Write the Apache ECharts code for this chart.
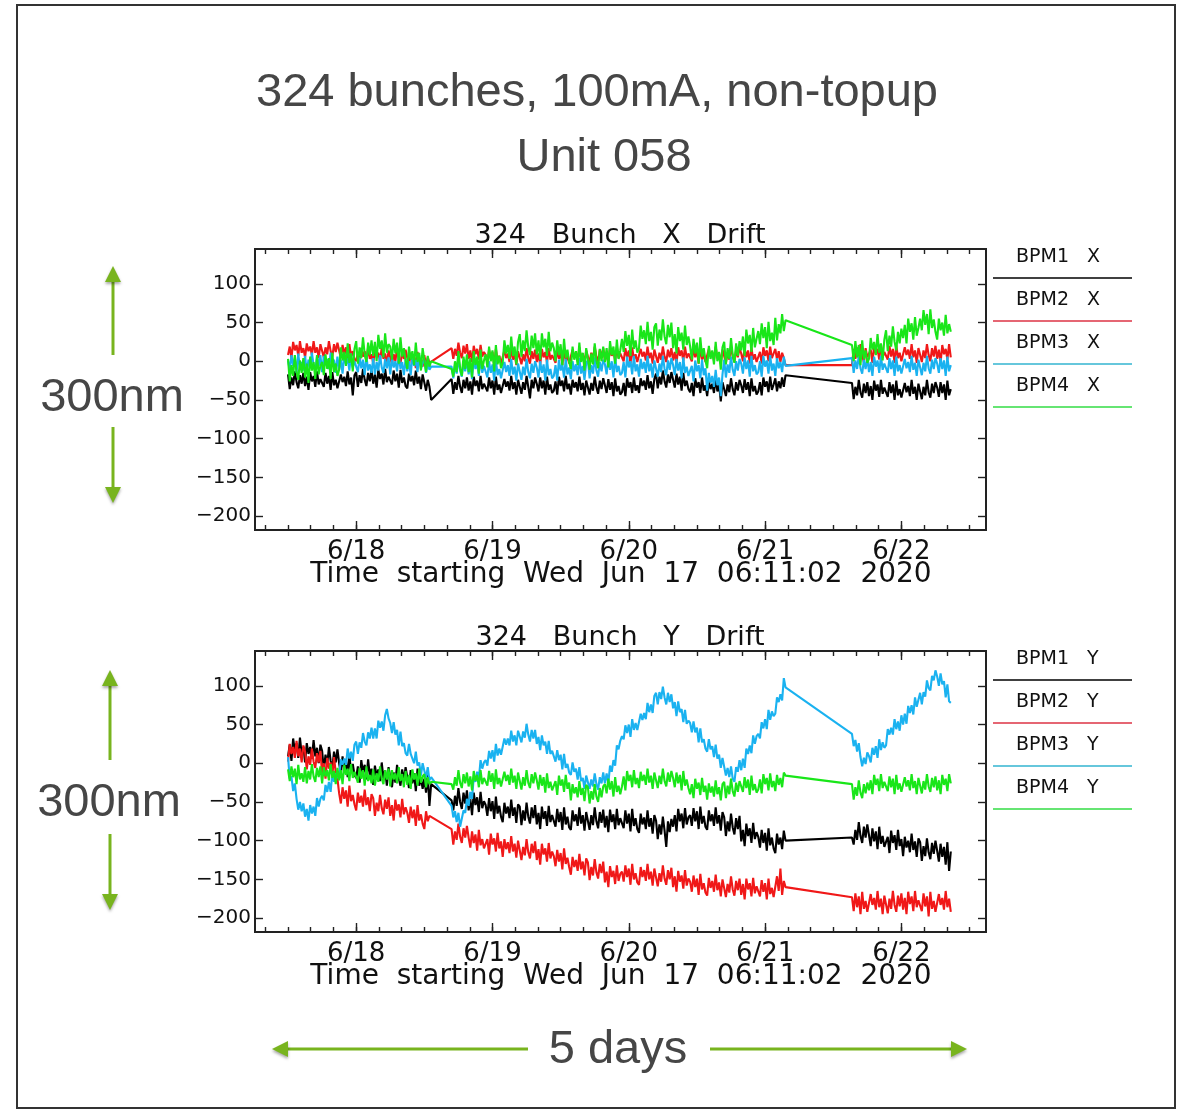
<!DOCTYPE html>
<html>
<head>
<meta charset="UTF-8">
<title>324 bunches drift</title>
<style>
  html, body { margin: 0; padding: 0; background: #fff; }
  #chart { width: 1191px; height: 1111px; }
</style>
</head>
<body>
<div id="chart"></div>
<script src="https://cdn.jsdelivr.net/npm/echarts@6/dist/echarts.min.js"></script>
<script>
// x is hours since Jun 17 00:00; plot starts at 06:11:02
var axisStartH = 6.184;
var axisEndH = 134.9;
// three recording segments, one sample every 0.3 h
var segStart = [12, 40.8, 111.3];
var stepH = 0.3;

var minorTicks = [8, 12, 16, 20, 24, 28, 32, 36, 40, 44, 48, 52, 56, 60, 64, 68, 72, 76, 80, 84, 88, 92, 96, 100, 104, 108, 112, 116, 120, 124, 128, 132];
var dayTicks = [24, 48, 72, 96, 120];
var dayLabels = ['6/18', '6/19', '6/20', '6/21', '6/22'];
var yTicks = [-200, -150, -100, -50, 0, 50, 100];
var yMin = -218, yMax = 145;

var seriesNamesX = ['BPM1   X', 'BPM2   X', 'BPM3   X', 'BPM4   X'];
var seriesNamesY = ['BPM1   Y', 'BPM2   Y', 'BPM3   Y', 'BPM4   Y'];
var colors = ['#000000', '#f01818', '#1ab2f0', '#19e619'];
var legendColors = ['#000000', '#dd3344', '#33b5d0', '#33dd44'];

// ---- X drift (nm) ----
var bpm1X = [
  [-17, -36, -21, -31, -13, -27, -35, -18, -29, -15,
   -32, -20, -37, -14, -26, -19, -33, -13, -30, -23,
   -23, -33, -15, -29, -19, -37, -14, -31, -24, -35,
   -36, -17, -27, -20, -32, -13, -30, -21, -44, -18,
   -14, -33, -18, -28, -10, -24, -32, -15, -26, -12,
   -29, -17, -34, -11, -23, -16, -30, -10, -27, -20,
   -20, -30, -12, -26, -16, -34, -11, -28, -21, -32,
   -35, -16, -26, -19, -31, -12, -29, -20, -36, -17,
   -19, -38, -24, -33, -50],
  [-23, -42, -27, -37, -19, -33, -41, -24, -35, -21,
   -38, -26, -43, -20, -32, -25, -39, -19, -36, -29,
   -29, -39, -21, -35, -25, -43, -20, -37, -30, -41,
   -42, -23, -33, -26, -38, -19, -36, -27, -43, -24,
   -23, -42, -27, -37, -19, -33, -48, -24, -35, -21,
   -29, -39, -21, -35, -25, -43, -20, -37, -30, -41,
   -38, -26, -43, -20, -32, -25, -39, -19, -36, -29,
   -43, -24, -34, -27, -39, -20, -37, -28, -44, -25,
   -24, -43, -28, -38, -20, -34, -42, -25, -36, -22,
   -31, -41, -23, -37, -27, -45, -22, -39, -32, -43,
   -40, -28, -45, -22, -34, -27, -41, -21, -38, -31,
   -41, -22, -32, -25, -37, -18, -35, -26, -42, -23,
   -16, -35, -20, -30, -12, -26, -34, -17, -28, -14,
   -24, -34, -16, -30, -20, -38, -15, -32, -25, -36,
   -40, -28, -45, -22, -34, -27, -41, -21, -38, -31,
   -45, -26, -36, -29, -41, -22, -39, -30, -52, -27,
   -26, -45, -30, -40, -22, -36, -44, -27, -38, -24,
   -31, -41, -23, -37, -27, -45, -22, -39, -32, -43,
   -39, -27, -44, -21, -33, -26, -40, -20, -37, -30,
   -22, -39, -26, -35, -21, -33, -18],
  [-28, -49, -33, -44, -24, -40, -47, -29, -41, -27,
   -45, -32, -50, -25, -38, -30, -46, -24, -42, -34,
   -34, -46, -27, -41, -30, -50, -25, -44, -36, -47,
   -49, -28, -40, -32, -45, -24, -42, -33, -50, -29,
   -28, -49, -33, -44, -24, -40, -47, -29, -41, -27,
   -34, -46, -27, -41, -30, -50, -25, -44, -36]
];
var bpm2X = [
  [8, 19, 4, 25, 14, 21, 7, 26, 11, 17,
   5, 23, 13, 19, 8, 26, 11, 18, 4, 22,
   23, 5, 18, 9, 26, 13, 6, 22, 12, 24,
   14, 4, 21, 9, 18, 1, 22, 6, 13, 3,
   0, 11, -4, 17, 6, 13, -1, 18, 3, 9,
   -3, 15, 5, 11, 0, 18, 3, 10, -4, 14,
   14, -4, 9, 0, 17, 4, -3, 13, 3, 15,
   4, -6, 11, -1, 8, -9, 12, -4, 3, -7,
   8, -6, 5, -2, -3],
  [17, 3, 16, 7, 24, 11, 4, 20, 10, 22,
   3, 14, -1, 20, 9, 16, 2, 21, 6, 12,
   8, -2, 15, 3, 12, -5, 16, 0, 7, -3,
   -4, 14, 4, 10, -1, 17, 2, 9, -5, 13,
   14, -4, 9, 0, 17, 4, -3, 13, 3, 15,
   -1, 10, -5, 16, 5, 12, -2, 17, 2, 8,
   8, -2, 15, 3, 12, -5, 16, 0, 7, -3,
   -3, 15, 5, 11, 0, 18, 3, 10, -4, 14,
   16, -2, 11, 2, 19, 6, -1, 15, 5, 17,
   1, 12, -3, 18, 7, 14, 0, 19, 4, 10,
   10, 0, 17, 5, 14, -3, 18, 2, 9, -1,
   -2, 16, 6, 12, 1, 19, 4, 11, -3, 15,
   16, -2, 11, 2, 19, 6, -1, 15, 5, 17,
   1, 12, -3, 18, 7, 14, 0, 19, 4, 10,
   10, 0, 17, 5, 14, -3, 18, 2, 9, -1,
   -2, 16, 6, 12, 1, 19, 4, 11, -3, 15,
   16, -2, 11, 2, 19, 6, -1, 15, 5, 17,
   10, 0, 17, 5, 14, -3, 18, 2, 9, -1,
   1, 12, -3, 18, 7, 14, 0, 19, 4, 10,
   16, 2, 13, -1, 11, 4, -5],
  [-5, 16, 3, 18, 4, 22, 8, -2, 17, 5,
   3, 15, -2, 21, 9, 16, 2, 22, 5, 12,
   12, 2, 20, 6, 16, -2, 21, 4, 11, 0,
   -1, 18, 8, 15, 3, 22, 5, 14, -2, 17,
   18, -1, 14, 4, 22, 8, 0, 17, 6, 20,
   3, 15, -2, 21, 9, 16, 2, 22, 5]
];
var bpm3X = [
  [1, -11, 8, -6, 5, -15, 10, -9, -1, -12,
   7, -14, 2, -9, 11, -5, -12, 6, -6, 8,
   -14, 7, -5, 3, -10, 11, -7, 2, -15, 6,
   -11, 2, -16, 9, -4, 4, -12, 10, -8, 0,
   -2, -14, 5, -9, 2, -18, 7, -12, -4, -15,
   4, -17, -1, -12, 8, -8, -15, 3, -9, 5,
   -17, 4, -8, 0, -13, 8, -10, -1, -18, 3,
   -13, 0, -18, 7, -6, 2, -14, 8, -10, -2,
   2, -15, -3, -11, -7],
  [-7, -22, -5, -16, 5, -12, -20, -1, -13, 2,
   -17, -3, -23, 4, -10, -2, -19, 5, -15, -6,
   -8, -21, 0, -15, -4, -25, 2, -18, -10, -22,
   -24, -1, -14, -5, -19, 3, -17, -7, -25, -3,
   -1, -24, -7, -18, 3, -14, -22, -3, -15, 0,
   -8, -21, 0, -15, -4, -25, 2, -18, -10, -22,
   -19, -5, -25, 2, -12, -4, -21, 3, -17, -8,
   -23, 0, -13, -4, -18, 4, -16, -6, -24, -2,
   1, -22, -5, -16, 5, -12, -20, -1, -13, 2,
   -4, -17, 4, -11, 0, -21, 6, -14, -6, -18,
   -15, -1, -21, 6, -8, 0, -17, 7, -13, -4,
   -20, 3, -10, -1, -15, 7, -13, -3, -21, 1,
   3, -20, -3, -14, 7, -10, -18, 1, -11, 4,
   -5, -18, 3, -12, -1, -22, 5, -15, -7, -19,
   -20, -6, -26, 1, -13, -5, -22, 2, -18, -9,
   -38, -15, -28, -19, -33, -11, -31, -21, -45, -17,
   2, -21, -4, -15, 6, -11, -19, 0, -12, 3,
   -3, -16, 5, -10, 1, -20, 7, -13, -5, -17,
   -14, 0, -20, 7, -7, 1, -16, 8, -12, -3,
   -19, 4, -9, -1, -14, 6, -6],
  [4, -15, 1, -10, 7, -9, -16, 2, -10, 4,
   -14, -1, -19, 6, -7, 1, -15, 7, -11, -3,
   -3, -15, 4, -10, 1, -19, 6, -13, -5, -16,
   -18, 3, -9, -1, -14, 7, -11, -2, -19, 2,
   3, -18, -2, -13, 7, -9, -16, 2, -10, 4,
   -3, -15, 4, -10, 1, -19, 6, -13, -5]
];
var bpm4X = [
  [3, -26, -5, -19, 8, -14, -24, 1, -15, 4,
   -21, -3, -28, 6, -12, -1, -23, 8, -17, -6,
   -1, -18, 9, -10, 4, -23, 11, -14, -3, -19,
   -11, 18, 1, 12, -6, 23, -2, 10, -13, 16,
   26, -3, 18, 4, 31, 9, -1, 24, 8, 27,
   7, 25, 0, 34, 16, 27, 5, 36, 11, 22,
   19, 2, 29, 10, 24, -3, 31, 6, 17, 1,
   -10, 19, 2, 13, -5, 24, -1, 11, -12, 17,
   15, -14, 7, -7, 0],
  [-10, -20, 0, -14, 13, -9, -19, 6, -10, 9,
   -14, 4, -21, 13, -5, 6, -16, 15, -10, 1,
   9, -8, 19, 0, 14, -13, 21, -4, 7, -9,
   -2, 27, 10, 21, 3, 32, 7, 19, -4, 25,
   35, 6, 27, 13, 40, 18, 8, 33, 17, 36,
   9, 27, 2, 36, 18, 29, 7, 38, 13, 24,
   17, 0, 27, 8, 22, -5, 29, 4, 15, -1,
   -10, 19, 2, 13, -5, 24, -1, 11, -12, 17,
   18, -11, 10, -4, 23, 1, -9, 16, 0, 19,
   -1, 17, -8, 26, 8, 19, -3, 28, 3, 14,
   29, 12, 39, 20, 34, 7, 41, 16, 27, 11,
   17, 46, 29, 40, 22, 51, 26, 38, 15, 44,
   49, 20, 41, 27, 54, 32, 22, 47, 31, 50,
   17, 35, 10, 44, 26, 37, 15, 46, 21, 32,
   19, 2, 29, 10, 24, -3, 31, 6, 17, 1,
   -9, 20, 3, 14, -4, 25, 0, 12, -11, 18,
   25, -4, 17, 3, 30, 8, -2, 23, 7, 26,
   14, 32, 7, 41, 23, 34, 12, 43, 18, 29,
   39, 22, 49, 30, 44, 17, 51, 26, 37, 21,
   56, 27, 48, 36, 61, 39, 53],
  [21, 0, 26, 5, 21, -5, 27, 3, 14, -2,
   3, 30, 15, 25, 8, 35, 11, 23, 1, 28,
   40, 13, 33, 19, 45, 25, 14, 38, 23, 42,
   30, 47, 23, 55, 38, 49, 28, 57, 33, 43,
   55, 40, 66, 47, 61, 35, 67, 43, 54, 38,
   28, 55, 40, 50, 33, 60, 36, 48, 38]
];

// ---- Y drift (nm) ----
var bpm1Y = [
  [9, 24, 3, 32, 16, 26, 7, 33, 12, 21,
   1, 26, 12, 21, 6, 30, 9, 20, 0, 24,
   16, -8, 11, -2, 21, 3, -6, 15, 1, 18,
   0, -14, 9, -8, 5, -18, 11, -11, -1, -15,
   -19, -4, -25, 4, -12, -2, -21, 5, -16, -7,
   -28, -3, -17, -8, -23, 1, -20, -9, -29, -5,
   -7, -31, -12, -25, -2, -20, -29, -8, -22, -5,
   -18, -32, -9, -26, -13, -36, -7, -29, -19, -33,
   -20, -38, -14, -55, -27],
  [-48, -61, -42, -55, -32, -50, -59, -38, -52, -35,
   -61, -46, -67, -38, -54, -44, -63, -37, -58, -49,
   -54, -68, -45, -62, -49, -72, -43, -65, -55, -69,
   -76, -51, -65, -56, -71, -47, -68, -57, -77, -53,
   -56, -80, -61, -74, -51, -69, -78, -57, -71, -54,
   -79, -64, -85, -56, -72, -62, -81, -55, -76, -67,
   -68, -82, -59, -76, -63, -86, -57, -79, -69, -83,
   -86, -61, -75, -66, -81, -57, -78, -67, -87, -63,
   -62, -86, -67, -80, -57, -75, -84, -63, -77, -60,
   -83, -68, -89, -60, -76, -66, -85, -59, -80, -71,
   -70, -84, -61, -78, -65, -88, -59, -81, -71, -85,
   -90, -65, -79, -70, -85, -61, -82, -71, -91, -67,
   -74, -98, -79, -92, -69, -87, -108, -75, -89, -72,
   -82, -67, -88, -59, -75, -65, -84, -58, -79, -70,
   -67, -81, -58, -75, -62, -85, -56, -78, -68, -82,
   -86, -61, -75, -66, -81, -57, -78, -67, -87, -63,
   -70, -94, -75, -88, -65, -83, -92, -71, -85, -68,
   -101, -86, -107, -78, -94, -84, -103, -77, -98, -89,
   -95, -109, -86, -103, -90, -113, -84, -106, -96, -110,
   -116, -91, -105, -96, -111, -87, -100],
  [-96, -105, -86, -99, -76, -94, -103, -82, -96, -79,
   -93, -107, -84, -101, -88, -111, -82, -104, -94, -108,
   -110, -95, -116, -87, -103, -93, -112, -86, -107, -98,
   -120, -95, -109, -100, -115, -91, -112, -101, -121, -97,
   -102, -126, -107, -120, -97, -115, -124, -103, -117, -100,
   -113, -127, -104, -121, -108, -131, -102, -139, -114]
];
var bpm2Y = [
  [2, 25, 12, 21, 7, 29, 9, 19, 1, 23,
   15, -8, 9, -2, 19, 2, -6, 13, 1, 16,
   -14, 0, -20, 7, -7, 1, -16, 8, -12, -20,
   -39, -52, -31, -46, -35, -56, -29, -49, -41, -53,
   -61, -38, -51, -42, -56, -34, -54, -44, -62, -40,
   -45, -68, -51, -62, -41, -58, -66, -47, -59, -44,
   -68, -54, -74, -47, -61, -53, -70, -46, -66, -57,
   -64, -77, -56, -71, -60, -81, -54, -74, -66, -78,
   -85, -62, -75, -68, -70],
  [-85, -105, -88, -99, -78, -95, -103, -84, -96, -81,
   -96, -109, -88, -103, -92, -113, -86, -106, -98, -110,
   -112, -98, -118, -91, -105, -97, -114, -90, -110, -101,
   -121, -98, -111, -102, -116, -94, -114, -104, -122, -100,
   -102, -125, -108, -119, -98, -115, -123, -104, -116, -101,
   -125, -111, -131, -104, -118, -110, -127, -103, -123, -114,
   -120, -133, -112, -127, -116, -137, -110, -130, -122, -134,
   -144, -121, -134, -125, -139, -117, -137, -127, -145, -123,
   -128, -151, -134, -145, -124, -141, -149, -130, -142, -127,
   -154, -140, -160, -133, -147, -139, -156, -132, -152, -143,
   -140, -153, -132, -147, -136, -157, -130, -150, -142, -154,
   -157, -134, -147, -138, -152, -130, -150, -140, -158, -136,
   -136, -159, -142, -153, -132, -149, -157, -138, -150, -135,
   -160, -146, -166, -139, -153, -145, -162, -138, -158, -149,
   -153, -166, -145, -160, -149, -170, -143, -163, -155, -167,
   -171, -148, -161, -152, -166, -144, -164, -154, -172, -150,
   -150, -173, -156, -167, -146, -163, -171, -152, -164, -149,
   -170, -156, -176, -149, -163, -155, -172, -148, -168, -159,
   -159, -172, -151, -166, -155, -176, -149, -169, -161, -173,
   -174, -146, -165, -136, -170, -152, -160],
  [-173, -191, -168, -186, -172, -195, -166, -188, -178, -192,
   -194, -169, -183, -174, -189, -165, -186, -175, -195, -171,
   -170, -194, -175, -188, -165, -183, -192, -171, -185, -168,
   -189, -174, -195, -166, -182, -172, -191, -165, -186, -177,
   -177, -191, -168, -185, -172, -198, -166, -188, -178, -192,
   -194, -169, -183, -174, -189, -165, -186, -175, -192]
];
var bpm3Y = [
  [8, -20, -17, -36, -26, -46, -60, -50, -62, -52,
   -69, -59, -74, -54, -65, -56, -68, -45, -56, -46,
   -42, -48, -28, -37, -24, -37, -13, -24, -13, -19,
   -16, 5, -2, 6, -2, 19, 6, 15, 3, 24,
   28, 12, 27, 20, 39, 28, 23, 40, 32, 46,
   32, 45, 32, 55, 46, 54, 42, 62, 70, 58,
   52, 39, 53, 37, 43, 23, 41, 22, 26, 13,
   10, 25, 12, 14, 0, 15, -3, 1, -16, 0,
   -1, -19, -5, -22, -18],
  [-55, -70, -62, -76, -64, -82, -83, -61, -64, -46,
   -55, -37, -46, -18, -24, -11, -20, 4, -7, 1,
   4, -3, 16, 6, 17, 2, 25, 10, 19, 11,
   12, 32, 24, 32, 23, 42, 28, 36, 23, 42,
   44, 27, 41, 33, 51, 37, 28, 43, 32, 43,
   25, 34, 17, 36, 23, 28, 12, 29, 12, 16,
   14, 2, 17, 4, 11, -8, 12, -6, -1, -12,
   -15, 1, -11, -7, -21, -5, -23, -19, -33, -16,
   -15, -33, -21, -30, -13, -27, -34, -18, -26, -12,
   -26, -13, -26, -3, -11, 4, -3, 23, 18, 29,
   35, 31, 49, 39, 50, 34, 57, 43, 52, 43,
   44, 64, 56, 65, 57, 78, 66, 76, 65, 87,
   91, 76, 92, 83, 99, 85, 76, 91, 79, 89,
   71, 79, 61, 80, 66, 70, 53, 69, 51, 55,
   52, 40, 54, 40, 46, 27, 45, 27, 31, 19,
   15, 31, 18, 22, 8, 24, 6, 11, -6, 7,
   5, -16, -6, -18, -4, -20, -24, -5, -11, 4,
   -9, 6, -6, 19, 12, 23, 13, 36, 25, 35,
   38, 32, 53, 45, 57, 44, 69, 56, 67, 61,
   64, 85, 79, 89, 81, 110, 98],
  [38, 22, 30, 15, 26, 8, -4, 7, -1, 14,
   9, 1, 20, 11, 22, 7, 31, 17, 27, 20,
   23, 44, 37, 46, 37, 57, 44, 54, 42, 62,
   50, 64, 51, 74, 65, 75, 63, 85, 73, 82,
   91, 76, 92, 86, 107, 97, 94, 113, 107, 120,
   112, 100, 116, 102, 106, 85, 102, 80, 78]
];
var bpm4Y = [
  [-8, -23, -4, -18, -7, -27, -2, -21, -13, -24,
   -5, -26, -10, -21, -1, -17, -24, -6, -18, -4,
   -26, -5, -17, -9, -22, -1, -19, -10, -27, -6,
   -22, -9, -27, -2, -15, -7, -23, -1, -19, -11,
   -13, -25, -6, -20, -9, -29, -4, -23, -15, -26,
   -8, -29, -13, -24, -4, -20, -27, -9, -21, -7,
   -30, -9, -21, -13, -26, -5, -23, -14, -31, -10,
   -28, -15, -33, -8, -21, -13, -29, -7, -25, -17,
   -14, -31, -18, -27, -24],
  [-27, -34, -18, -29, -9, -25, -32, -14, -26, -12,
   -30, -17, -35, -10, -23, -15, -31, -9, -27, -19,
   -17, -29, -10, -24, -13, -33, -8, -27, -19, -30,
   -32, -11, -23, -15, -28, -7, -25, -16, -33, -12,
   -13, -34, -18, -29, -9, -25, -32, -14, -26, -12,
   -22, -34, -15, -29, -18, -38, -13, -32, -24, -35,
   -36, -23, -41, -16, -29, -21, -37, -15, -33, -25,
   -48, -27, -39, -31, -44, -23, -41, -32, -49, -28,
   -31, -52, -36, -47, -27, -43, -50, -32, -44, -30,
   -27, -39, -20, -34, -23, -43, -18, -37, -29, -40,
   -30, -17, -35, -10, -23, -15, -31, -9, -27, -19,
   -32, -11, -23, -15, -28, -7, -25, -16, -33, -12,
   -11, -32, -16, -27, -7, -23, -30, -12, -24, -10,
   -19, -31, -12, -26, -15, -35, -10, -29, -21, -32,
   -40, -27, -45, -20, -33, -25, -41, -19, -37, -29,
   -47, -26, -38, -30, -43, -22, -40, -31, -48, -27,
   -24, -45, -29, -40, -20, -36, -43, -25, -37, -23,
   -25, -37, -18, -32, -21, -41, -16, -35, -27, -38,
   -34, -21, -39, -14, -27, -19, -35, -13, -31, -23,
   -36, -15, -28, -19, -31, -12, -16],
  [-27, -47, -31, -42, -22, -38, -45, -27, -39, -25,
   -35, -22, -40, -15, -28, -20, -36, -14, -32, -24,
   -24, -36, -17, -31, -20, -40, -15, -34, -26, -37,
   -39, -18, -30, -22, -35, -14, -32, -23, -40, -19,
   -18, -39, -23, -34, -14, -30, -37, -19, -31, -17,
   -35, -22, -40, -15, -28, -20, -36, -14, -26]
];

var panelX = [bpm1X, bpm2X, bpm3X, bpm4X];
var panelY = [bpm1Y, bpm2Y, bpm3Y, bpm4Y];

// full trace, joined straight across the recording gaps
function toPoints(segs) {
  var out = [];
  for (var s = 0; s < segs.length; s++) {
    for (var i = 0; i < segs[s].length; i++) {
      out.push([segStart[s] + i * stepH, segs[s][i]]);
    }
  }
  return out;
}

var idlFont = '"DejaVu Sans"';
var axisColor = '#222';

function xAx(grid, pos, ticks, len, withLabels) {
  return {
    gridIndex: grid, type: 'value', position: pos,
    min: axisStartH, max: axisEndH,
    axisLine: { show: false, onZero: false },
    splitLine: { show: false },
    axisTick: { show: true, inside: true, length: len, customValues: ticks,
      lineStyle: { color: axisColor, width: 1.4 } },
    axisLabel: withLabels ? {
      show: true, customValues: dayTicks, margin: 9,
      fontFamily: idlFont, fontSize: 26, lineHeight: 26, color: '#111',
      formatter: function (v) {
        var k = dayTicks.indexOf(Math.round(v));
        return k >= 0 ? dayLabels[k] : '';
      }
    } : { show: false }
  };
}

function yAx(grid, pos, withLabels) {
  return {
    gridIndex: grid, type: 'value', position: pos,
    min: yMin, max: yMax,
    axisLine: { show: false, onZero: false },
    splitLine: { show: false },
    axisTick: { show: true, inside: true, length: 8, customValues: yTicks,
      lineStyle: { color: axisColor, width: 1.4 } },
    axisLabel: withLabels ? {
      show: true, customValues: yTicks, margin: 4,
      fontFamily: idlFont, fontSize: 20, color: '#111',
      padding: [0, 0, 10, 0],
      formatter: function (v) { return v < 0 ? '\u2212' + (-v) : String(v); }
    } : { show: false }
  };
}

var xAxes = [], yAxes = [], series = [];
[0, 1].forEach(function (g) {
  xAxes.push(xAx(g, 'bottom', minorTicks, 5, false));
  xAxes.push(xAx(g, 'bottom', dayTicks, 9, true));
  xAxes.push(xAx(g, 'top', minorTicks, 5, false));
  xAxes.push(xAx(g, 'top', dayTicks, 9, false));
  yAxes.push(yAx(g, 'left', true));
  yAxes.push(yAx(g, 'right', false));
  var panel = g === 0 ? panelX : panelY;
  var names = g === 0 ? seriesNamesX : seriesNamesY;
  panel.forEach(function (segs, k) {
    series.push({
      name: names[k], type: 'line',
      xAxisIndex: g * 4 + 1, yAxisIndex: g * 2,
      data: toPoints(segs),
      showSymbol: false, symbol: 'none',
      lineStyle: { color: colors[k], width: 2.1 },
      z: 2 + k
    });
  });
});

var green = '#78b41e';
var gray = '#464646';

function txt(x, y, text, font, fill, align) {
  return { type: 'text', x: x, y: y, silent: true,
    style: { text: text, font: font, fill: fill, textAlign: align || 'center', textVerticalAlign: 'middle' } };
}
function seg(x1, y1, x2, y2, color, w) {
  return { type: 'line', silent: true, shape: { x1: x1, y1: y1, x2: x2, y2: y2 },
    style: { stroke: color, lineWidth: w } };
}
function head(points) {
  return { type: 'polygon', silent: true, shape: { points: points },
    style: { fill: green, shadowBlur: 3, shadowColor: 'rgba(0,0,0,0.35)', shadowOffsetY: 2 } };
}
function vArrows(x, tipTop, lineTopEnd, lineBotStart, tipBot) {
  return [
    seg(x, tipTop + 12, x, lineTopEnd, green, 3),
    head([[x, tipTop], [x - 8, tipTop + 16], [x + 8, tipTop + 16]]),
    seg(x, lineBotStart, x, tipBot - 12, green, 3),
    head([[x, tipBot], [x - 8, tipBot - 16], [x + 8, tipBot - 16]])
  ];
}

var graphics = [
  { type: 'rect', silent: true, shape: { x: 17, y: 5, width: 1158, height: 1103 },
    style: { fill: 'none', stroke: '#333', lineWidth: 2 } },
  txt(597, 93, '324 bunches, 100mA, non-topup', '47px "Liberation Sans"', gray),
  txt(604, 158, 'Unit 058', '47px "Liberation Sans"', gray),
  txt(620, 236, '324   Bunch   X   Drift', '27px ' + idlFont, '#111'),
  txt(620, 638, '324   Bunch   Y   Drift', '27px ' + idlFont, '#111'),
  txt(621, 575, 'Time  starting  Wed  Jun  17  06:11:02  2020', '28px ' + idlFont, '#111'),
  txt(621, 977, 'Time  starting  Wed  Jun  17  06:11:02  2020', '28px ' + idlFont, '#111'),
  txt(112, 398, '300nm', '47px "Liberation Sans"', gray),
  txt(109, 803, '300nm', '47px "Liberation Sans"', gray),
  txt(618, 1050, '5 days', '47px "Liberation Sans"', gray),
  seg(284, 1049, 528, 1049, green, 3),
  head([[272, 1049], [288, 1041], [288, 1057]]),
  seg(710, 1049, 955, 1049, green, 3),
  head([[967, 1049], [951, 1041], [951, 1057]])
].concat(vArrows(113, 266, 355, 427, 503), vArrows(110, 670, 760, 834, 910));

// legend blocks: label above a coloured line
[0, 1].forEach(function (g) {
  var names = g === 0 ? seriesNamesX : seriesNamesY;
  var off = g === 0 ? 0 : 402;
  names.forEach(function (n, k) {
    var ly = 278 + off + k * 43;
    graphics.push(txt(1016, ly - 21, n, '19px ' + idlFont, '#111', 'left'));
    graphics.push(seg(993, ly, 1132, ly, legendColors[k], 1.6));
  });
});

var chart = echarts.init(document.getElementById('chart'));
chart.setOption({
  animation: false,
  backgroundColor: '#ffffff',
  grid: [
    { left: 255, top: 249, width: 731, height: 281, show: true, borderColor: axisColor, borderWidth: 2, backgroundColor: 'transparent' },
    { left: 255, top: 651, width: 731, height: 281, show: true, borderColor: axisColor, borderWidth: 2, backgroundColor: 'transparent' }
  ],
  xAxis: xAxes,
  yAxis: yAxes,
  series: series,
  graphic: graphics
});
</script>
</body>
</html>
